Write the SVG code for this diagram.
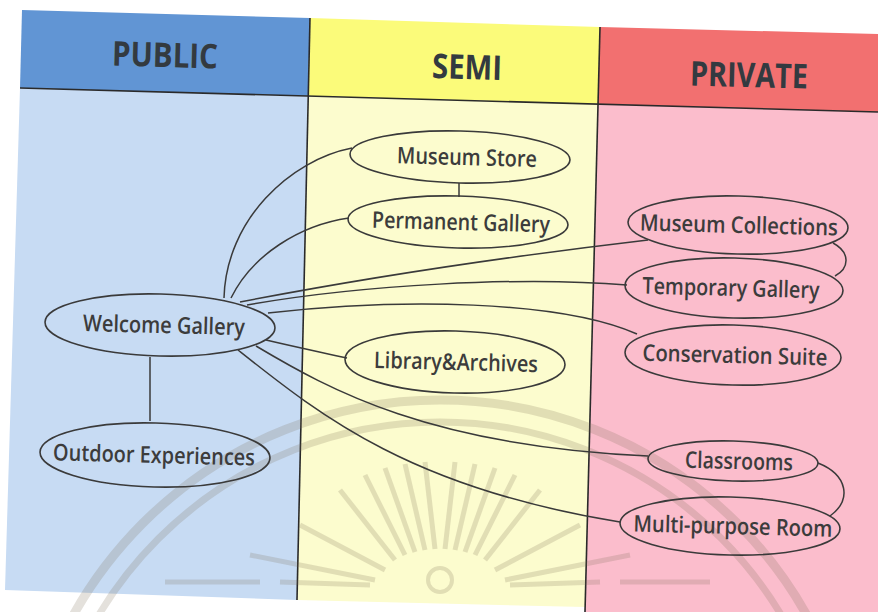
<svg xmlns="http://www.w3.org/2000/svg" width="878" height="612" viewBox="0 0 878 612">
<style>
.node ellipse{fill:none;stroke:#3a3a3a;stroke-width:1.6}
.node text{font-family:"Open Sans","Noto Sans",sans-serif;font-weight:600;font-size:23px;fill:#3c3c3c;text-anchor:middle}
.hdr{font-family:"Open Sans","Noto Sans",sans-serif;font-weight:700;font-size:34px;fill:#333a40;text-anchor:middle}
.conn path{fill:none;stroke:#3a3a3a;stroke-width:1.5}
.div{stroke:#2a2a2a;stroke-width:1.6;fill:none}
.wm{fill:none;stroke:#7a6a50;stroke-opacity:0.2}
</style>
<rect width="878" height="612" fill="#ffffff"/>
<!-- panels -->
<polygon points="22,10 310,18 308,96 20,88" fill="#6195d4"/>
<polygon points="20,88 308,96 297,600 5,590" fill="#c7dbf3"/>
<polygon points="310,18 600,27 598,104 308,96" fill="#fbfb7a"/>
<polygon points="308,96 598,104 585,607 297,600" fill="#fcfcce"/>
<polygon points="600,27 878,34 878,112 598,104" fill="#f27070"/>
<polygon points="598,104 878,112 878,612 585,612" fill="#fbbdcc"/>
<path class="div" d="M20,88 L878,112"/>
<path class="div" d="M310,18 L297,600"/>
<path class="div" d="M600,27 L585,612"/>
<!-- watermark -->
<g id="watermark">
<circle class="wm" cx="440" cy="820" r="420" stroke-width="9"/>
<circle class="wm" cx="440" cy="820" r="398" stroke-width="7"/>
<g class="wm" stroke-width="5">
<path d="M365,475 L405,555"/><path d="M385,468 L415,552"/><path d="M405,464 L425,550"/><path d="M425,462 L435,549"/>
<path d="M455,462 L445,549"/><path d="M475,464 L455,550"/><path d="M495,468 L465,552"/><path d="M515,475 L475,555"/>
<path d="M340,490 L395,560"/><path d="M540,490 L485,560"/>
<path d="M300,525 L385,570"/><path d="M580,525 L495,570"/>
<path d="M250,555 L375,580"/><path d="M630,555 L505,580"/>
<path d="M165,582 L260,582"/><path d="M280,582 L370,585"/>
<path d="M510,585 L600,582"/><path d="M620,582 L710,582"/>
</g>
<circle class="wm" cx="440" cy="580" r="12" stroke-width="4"/>
</g>
<text class="hdr" x="165" y="67" textLength="106" lengthAdjust="spacingAndGlyphs" transform="rotate(1.5 165 55)">PUBLIC</text>
<text class="hdr" x="467" y="79" textLength="70" lengthAdjust="spacingAndGlyphs" transform="rotate(1.5 467 68)">SEMI</text>
<text class="hdr" x="749" y="87" textLength="118" lengthAdjust="spacingAndGlyphs" transform="rotate(1.5 749 75)">PRIVATE</text>
<!-- connectors -->
<g id="connectors" class="conn">
<path d="M224,298 C226,220 290,160 352,148"/>
<path d="M231,298 C252,255 300,225 349,218"/>
<path d="M240,302 C380,275 520,255 648,240"/>
<path d="M247,305 C360,285 520,276 627,285"/>
<path d="M268,313 C400,298 560,300 637,334"/>
<path d="M266,340 C300,348 320,352 347,358"/>
<path d="M256,346 C330,390 430,446 648,456"/>
<path d="M238,350 C320,415 410,488 620,522"/>
<path d="M459,183 L459,197"/>
<path d="M833,243 C850,252 850,268 835,276"/>
<path d="M818,463 C848,475 852,500 830,516"/>
<path d="M150,357 L150,421"/>
</g>
<!-- nodes -->
<g id="museum-store" class="node" transform="rotate(1.5 460 157)"><ellipse cx="460" cy="157" rx="110" ry="26"/><text x="467" y="165" textLength="140" lengthAdjust="spacingAndGlyphs">Museum Store</text></g>
<g id="permanent-gallery" class="node" transform="rotate(1.5 458 222)"><ellipse cx="458" cy="222" rx="110" ry="26"/><text x="461" y="230" textLength="178" lengthAdjust="spacingAndGlyphs">Permanent Gallery</text></g>
<g id="museum-collections" class="node" transform="rotate(1.5 738 225)"><ellipse cx="738" cy="225" rx="110" ry="29"/><text x="739" y="233" textLength="198" lengthAdjust="spacingAndGlyphs">Museum Collections</text></g>
<g id="temporary-gallery" class="node" transform="rotate(1.5 734 288)"><ellipse cx="734" cy="288" rx="109" ry="30"/><text x="731" y="296" textLength="177" lengthAdjust="spacingAndGlyphs">Temporary Gallery</text></g>
<g id="conservation-suite" class="node" transform="rotate(1.5 733 355)"><ellipse cx="733" cy="355" rx="108" ry="30"/><text x="735" y="363" textLength="185" lengthAdjust="spacingAndGlyphs">Conservation Suite</text></g>
<g id="library-archives" class="node" transform="rotate(1.5 455 362)"><ellipse cx="455" cy="362" rx="110" ry="31"/><text x="456" y="370" textLength="164" lengthAdjust="spacingAndGlyphs">Library&amp;Archives</text></g>
<g id="welcome-gallery" class="node" transform="rotate(1.5 160 325)"><ellipse cx="160" cy="325" rx="115" ry="31"/><text x="164" y="333" textLength="162" lengthAdjust="spacingAndGlyphs">Welcome Gallery</text></g>
<g id="outdoor-experiences" class="node" transform="rotate(1.5 155 455)"><ellipse cx="155" cy="455" rx="115" ry="32"/><text x="154" y="463" textLength="202" lengthAdjust="spacingAndGlyphs">Outdoor Experiences</text></g>
<g id="classrooms" class="node" transform="rotate(1.5 733 461)"><ellipse cx="733" cy="461" rx="85" ry="20"/><text x="739" y="469" textLength="108" lengthAdjust="spacingAndGlyphs">Classrooms</text></g>
<g id="multi-purpose-room" class="node" transform="rotate(1.5 730 526)"><ellipse cx="730" cy="526" rx="110" ry="29"/><text x="733" y="534" textLength="199" lengthAdjust="spacingAndGlyphs">Multi-purpose Room</text></g>
</svg>
